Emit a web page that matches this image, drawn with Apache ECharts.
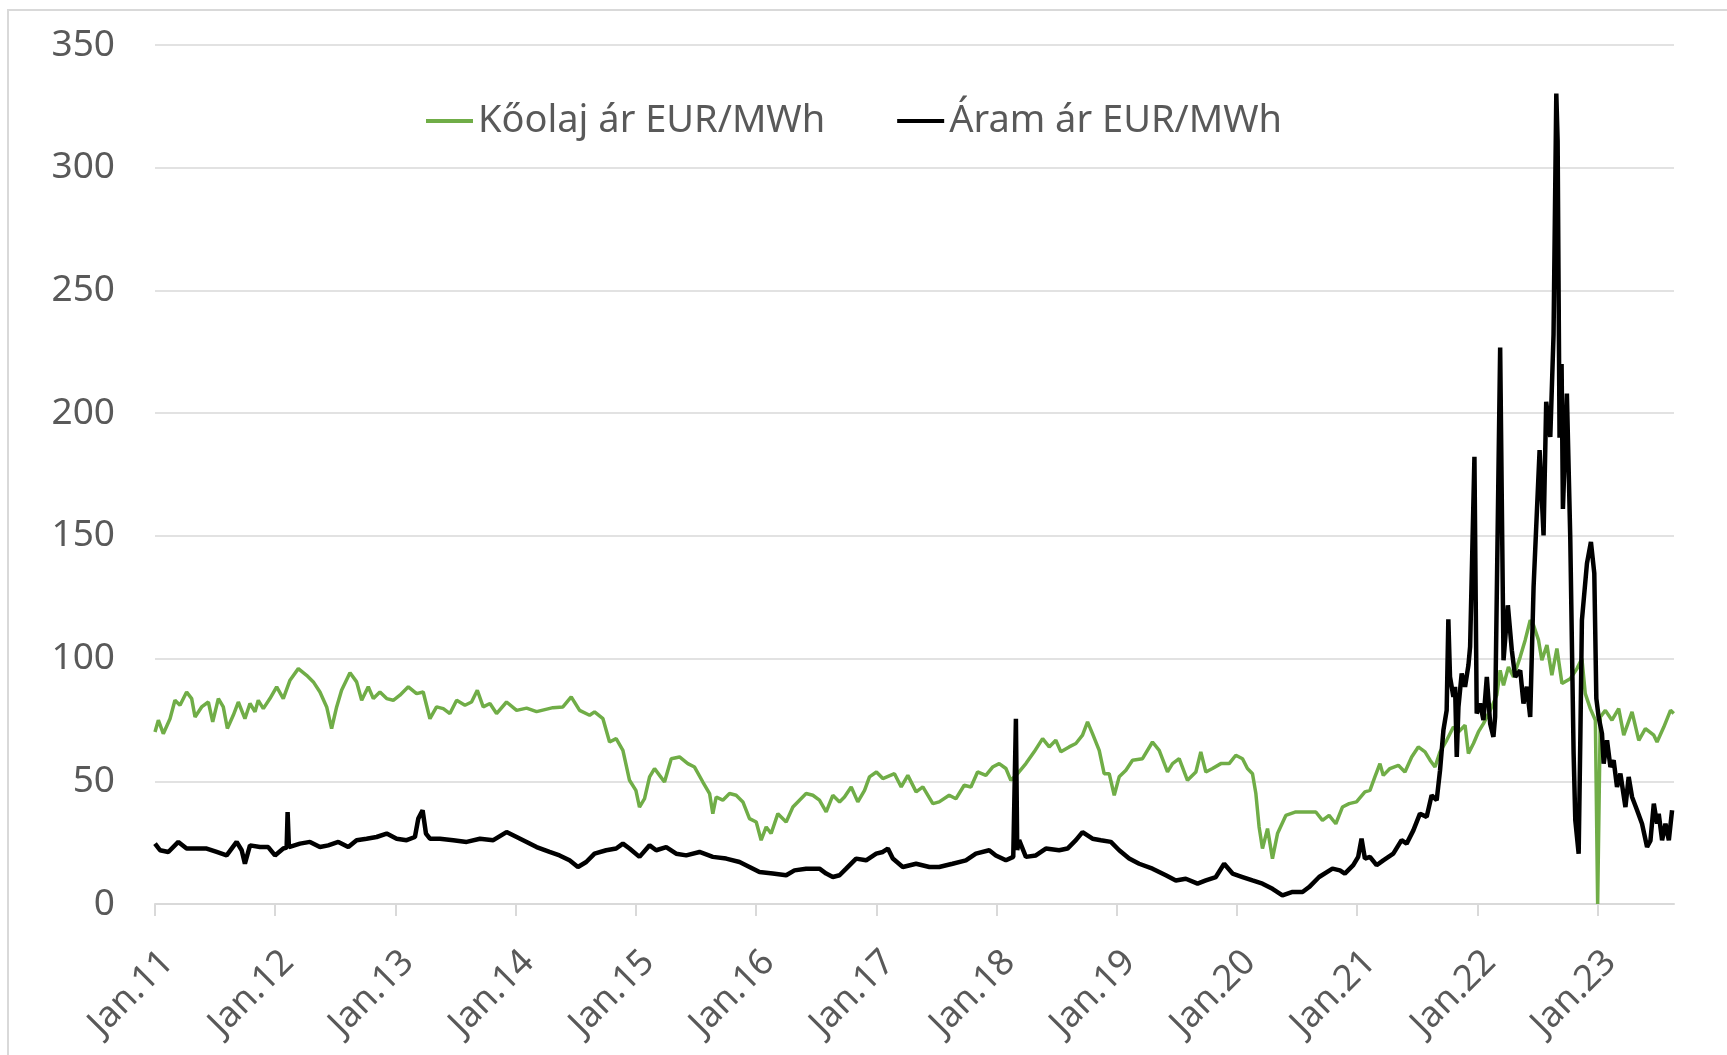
<!DOCTYPE html>
<html>
<head>
<meta charset="utf-8">
<title>Kőolaj és áram ár</title>
<script src="https://cdn.jsdelivr.net/npm/echarts@6/dist/echarts.min.js"></script>
<style>
  html, body { margin: 0; padding: 0; background: #fff; }
  #frame {
    position: absolute; left: 7px; top: 9px; right: 0; bottom: 0;
    border-left: 2px solid #d9d9d9; border-top: 2px solid #d9d9d9;
  }
  #chart { position: absolute; left: 0; top: 0; width: 1727px; height: 1055px; }
</style>
</head>
<body>
<div id="frame"></div>
<div id="chart"></div>
<script>
// idő tizedes évben (2011.0 = Jan.11), értékek EUR/MWh
const yearTicks = [2011, 2012, 2013, 2014, 2015, 2016, 2017, 2018, 2019, 2020, 2021, 2022, 2023]

const oilT = [
  2011.000, 2011.028, 2011.069, 2011.125, 2011.166, 2011.208, 2011.263, 2011.305, 2011.333, 2011.388,
  2011.444, 2011.480, 2011.527, 2011.568, 2011.602, 2011.651, 2011.693, 2011.748, 2011.790, 2011.832,
  2011.859, 2011.901, 2011.956, 2012.012, 2012.067, 2012.123, 2012.192, 2012.261, 2012.317, 2012.372,
  2012.428, 2012.469, 2012.511, 2012.552, 2012.622, 2012.677, 2012.719, 2012.774, 2012.816, 2012.871,
  2012.927, 2012.982, 2013.037, 2013.107, 2013.176, 2013.231, 2013.287, 2013.342, 2013.398, 2013.453,
  2013.509, 2013.578, 2013.633, 2013.681, 2013.730, 2013.786, 2013.841, 2013.924, 2014.008, 2014.091,
  2014.174, 2014.310, 2014.393, 2014.462, 2014.532, 2014.615, 2014.656, 2014.726, 2014.781, 2014.836,
  2014.892, 2014.947, 2015.000, 2015.030, 2015.072, 2015.114, 2015.155, 2015.197, 2015.238, 2015.294,
  2015.363, 2015.432, 2015.488, 2015.557, 2015.613, 2015.640, 2015.668, 2015.723, 2015.779, 2015.834,
  2015.890, 2015.945, 2016.001, 2016.042, 2016.084, 2016.125, 2016.181, 2016.250, 2016.306, 2016.361,
  2016.416, 2016.472, 2016.527, 2016.583, 2016.638, 2016.694, 2016.735, 2016.791, 2016.846, 2016.902,
  2016.943, 2017.001, 2017.054, 2017.151, 2017.207, 2017.262, 2017.331, 2017.387, 2017.470, 2017.523,
  2017.606, 2017.662, 2017.731, 2017.787, 2017.842, 2017.911, 2017.967, 2018.022, 2018.078, 2018.119,
  2018.175, 2018.244, 2018.313, 2018.383, 2018.438, 2018.493, 2018.535, 2018.604, 2018.660, 2018.715,
  2018.757, 2018.798, 2018.854, 2018.895, 2018.937, 2018.979, 2019.020, 2019.076, 2019.131, 2019.214,
  2019.297, 2019.353, 2019.422, 2019.464, 2019.519, 2019.588, 2019.658, 2019.699, 2019.741, 2019.796,
  2019.866, 2019.935, 2019.990, 2020.046, 2020.087, 2020.129, 2020.157, 2020.184, 2020.212, 2020.254,
  2020.295, 2020.337, 2020.406, 2020.489, 2020.572, 2020.656, 2020.711, 2020.766, 2020.822, 2020.877,
  2020.933, 2020.994, 2021.064, 2021.106, 2021.147, 2021.189, 2021.217, 2021.272, 2021.342, 2021.397,
  2021.453, 2021.508, 2021.564, 2021.606, 2021.647, 2021.689, 2021.744, 2021.800, 2021.842, 2021.897,
  2021.925, 2021.967, 2022.008, 2022.050, 2022.106, 2022.161, 2022.189, 2022.217, 2022.258, 2022.300,
  2022.356, 2022.397, 2022.439, 2022.467, 2022.508, 2022.536, 2022.578, 2022.619, 2022.661, 2022.703,
  2022.772, 2022.828, 2022.869, 2022.897, 2022.939, 2022.981, 2023.000, 2023.022, 2023.064, 2023.119,
  2023.175, 2023.217, 2023.286, 2023.342, 2023.397, 2023.467, 2023.494, 2023.550, 2023.606, 2023.633
]
const oilV = [
  70.1, 74.9, 69.4, 75.5, 83.0, 81.0, 86.4, 83.7, 76.2, 80.3,
  82.3, 74.2, 83.7, 80.3, 71.5, 76.9, 82.3, 75.5, 81.7, 78.3,
  83.0, 79.6, 83.7, 88.5, 83.7, 91.2, 95.9, 93.2, 90.5, 86.4,
  80.3, 71.5, 80.3, 87.1, 94.2, 90.5, 83.0, 88.5, 83.7, 86.4,
  83.7, 83.0, 85.1, 88.5, 85.7, 86.4, 75.5, 80.3, 79.6, 77.6,
  83.0, 81.0, 82.3, 87.1, 80.3, 81.7, 77.6, 82.3, 78.9, 79.8,
  78.4, 80.0, 80.3, 84.4, 78.9, 76.9, 78.3, 75.5, 66.0, 67.4,
  62.6, 50.4, 46.3, 39.5, 42.9, 51.8, 55.2, 52.4, 49.7, 59.2,
  59.9, 57.2, 55.8, 49.7, 45.0, 36.8, 43.6, 42.3, 45.0, 44.3,
  41.6, 34.8, 33.4, 26.0, 31.4, 28.7, 36.8, 33.4, 39.5, 42.3,
  45.0, 44.3, 42.3, 37.5, 44.3, 41.6, 43.6, 47.7, 41.6, 46.3,
  51.8, 53.8, 51.1, 53.1, 47.7, 52.4, 45.7, 47.7, 40.9, 41.6,
  44.3, 42.9, 48.4, 47.7, 53.8, 52.4, 55.8, 57.2, 55.2, 50.4,
  53.1, 57.2, 62.0, 67.4, 64.0, 66.7, 62.0, 64.0, 65.4, 68.8,
  74.2, 69.4, 62.6, 53.1, 53.1, 44.3, 51.8, 54.5, 58.6, 59.2,
  66.0, 62.6, 53.8, 57.2, 59.2, 50.4, 53.8, 62.0, 53.8, 55.2,
  57.2, 57.2, 60.6, 59.2, 55.2, 53.1, 45.0, 31.4, 22.6, 30.7,
  18.5, 28.7, 36.1, 37.5, 37.5, 37.5, 34.1, 36.1, 32.7, 39.5,
  40.9, 41.6, 45.7, 46.3, 51.8, 57.2, 52.4, 55.2, 56.5, 53.8,
  59.9, 64.0, 62.0, 58.6, 55.8, 62.0, 66.7, 72.1, 70.1, 72.8,
  61.3, 65.4, 70.1, 73.5, 78.9, 85.1, 95.2, 89.1, 96.6, 92.5,
  100.7, 107.5, 115.6, 113.6, 107.5, 99.3, 105.5, 93.2, 104.1, 89.8,
  91.8, 95.9, 100.0, 85.7, 79.6, 74.9, 0.0, 76.2, 78.9, 74.9,
  79.6, 68.8, 78.3, 66.7, 71.5, 68.8, 66.0, 72.1, 78.9, 77.6
]

const powerT = [
  2011.000, 2011.042, 2011.111, 2011.194, 2011.263, 2011.347, 2011.430, 2011.513, 2011.596, 2011.679,
  2011.721, 2011.748, 2011.790, 2011.873, 2011.942, 2011.998, 2012.067, 2012.095, 2012.103, 2012.114,
  2012.206, 2012.289, 2012.372, 2012.441, 2012.525, 2012.608, 2012.677, 2012.760, 2012.843, 2012.927,
  2013.010, 2013.093, 2013.162, 2013.190, 2013.226, 2013.254, 2013.287, 2013.370, 2013.481, 2013.592,
  2013.703, 2013.814, 2013.924, 2014.008, 2014.091, 2014.174, 2014.282, 2014.365, 2014.448, 2014.518,
  2014.587, 2014.656, 2014.753, 2014.836, 2014.892, 2014.947, 2015.030, 2015.114, 2015.169, 2015.252,
  2015.335, 2015.419, 2015.529, 2015.640, 2015.751, 2015.862, 2015.945, 2016.028, 2016.139, 2016.250,
  2016.319, 2016.416, 2016.527, 2016.583, 2016.638, 2016.694, 2016.749, 2016.832, 2016.915, 2016.999,
  2017.054, 2017.096, 2017.137, 2017.220, 2017.331, 2017.442, 2017.523, 2017.634, 2017.745, 2017.828,
  2017.939, 2017.994, 2018.078, 2018.139, 2018.150, 2018.161, 2018.172, 2018.188, 2018.244, 2018.327,
  2018.410, 2018.521, 2018.590, 2018.660, 2018.715, 2018.798, 2018.868, 2018.951, 2019.020, 2019.103,
  2019.186, 2019.297, 2019.408, 2019.491, 2019.574, 2019.672, 2019.741, 2019.824, 2019.893, 2019.963,
  2020.046, 2020.129, 2020.212, 2020.295, 2020.378, 2020.462, 2020.545, 2020.600, 2020.683, 2020.794,
  2020.856, 2020.897, 2020.967, 2021.008, 2021.036, 2021.064, 2021.106, 2021.161, 2021.217, 2021.300,
  2021.369, 2021.411, 2021.467, 2021.522, 2021.578, 2021.619, 2021.661, 2021.689, 2021.717, 2021.744,
  2021.758, 2021.772, 2021.800, 2021.814, 2021.828, 2021.842, 2021.869, 2021.897, 2021.925, 2021.939,
  2021.975, 2021.994, 2022.022, 2022.050, 2022.078, 2022.106, 2022.133, 2022.147, 2022.189, 2022.217,
  2022.253, 2022.286, 2022.314, 2022.356, 2022.383, 2022.411, 2022.439, 2022.467, 2022.517, 2022.550,
  2022.572, 2022.606, 2022.633, 2022.656, 2022.667, 2022.683, 2022.700, 2022.711, 2022.744, 2022.772,
  2022.800, 2022.814, 2022.842, 2022.856, 2022.869, 2022.911, 2022.944, 2022.972, 2022.989, 2023.008,
  2023.036, 2023.050, 2023.078, 2023.106, 2023.133, 2023.161, 2023.189, 2023.231, 2023.258, 2023.286,
  2023.328, 2023.369, 2023.411, 2023.439, 2023.467, 2023.494, 2023.508, 2023.536, 2023.564, 2023.592,
  2023.619
]
const powerV = [
  24.6, 21.9, 21.2, 25.3, 22.6, 22.6, 22.6, 21.2, 19.8, 25.3,
  21.9, 16.4, 23.9, 23.2, 23.2, 19.8, 22.6, 23.0, 37.5, 23.2,
  24.6, 25.3, 23.2, 23.9, 25.3, 23.2, 26.0, 26.6, 27.3, 28.7,
  26.6, 26.0, 27.3, 34.8, 38.2, 28.7, 26.6, 26.6, 26.0, 25.3,
  26.6, 26.0, 29.3, 27.3, 25.3, 23.2, 21.2, 19.8, 17.8, 15.1,
  17.1, 20.5, 21.9, 22.6, 24.6, 22.6, 19.2, 23.9, 21.9, 23.2,
  20.5, 19.8, 21.2, 19.2, 18.5, 17.1, 15.1, 13.0, 12.4, 11.7,
  13.7, 14.4, 14.4, 12.4, 11.0, 11.7, 14.4, 18.5, 17.8, 20.5,
  21.2, 22.6, 18.5, 15.1, 16.4, 15.1, 15.1, 16.4, 17.8, 20.5,
  21.9, 19.8, 17.8, 19.2, 20.0, 75.5, 22.0, 26.0, 19.2, 19.8,
  22.6, 21.9, 22.6, 26.0, 29.3, 26.6, 26.0, 25.3, 21.9, 18.5,
  16.4, 14.4, 11.7, 9.6, 10.3, 8.3, 9.6, 11.0, 16.4, 12.4,
  11.0, 9.6, 8.3, 6.2, 3.5, 4.9, 4.9, 6.9, 11.0, 14.4,
  13.7, 12.4, 15.8, 19.2, 26.6, 18.5, 19.2, 15.8, 17.8, 20.5,
  26.0, 24.6, 30.0, 36.8, 35.5, 44.3, 42.3, 54.5, 70.8, 78.9,
  116.0, 92.5, 84.4, 88.5, 59.9, 80.3, 93.9, 88.5, 97.3, 104.8,
  182.2, 77.6, 81.7, 74.9, 92.5, 73.5, 68.1, 76.2, 226.7, 99.3,
  121.7, 103.4, 92.5, 95.2, 81.7, 88.5, 76.2, 129.2, 184.9, 150.2,
  204.6, 190.3, 232.0, 330.2, 311.0, 190.0, 220.0, 161.0, 208.0, 149.5,
  61.3, 34.1, 20.5, 68.1, 115.6, 138.8, 147.5, 134.8, 83.7, 76.2,
  69.4, 57.2, 66.7, 55.8, 58.6, 47.7, 53.1, 39.5, 51.8, 43.6,
  38.2, 32.7, 23.2, 25.8, 40.9, 32.7, 36.8, 26.0, 32.7, 26.0,
  38.2
]

const seriesNames = ['Kőolaj ár EUR/MWh', 'Áram ár EUR/MWh']
const seriesColors = ['#70ad47', '#000000']

const toPairs = (ts, vs) => ts.map((t, i) => [t, vs[i]])

const chart = echarts.init(document.getElementById('chart'), null, { renderer: 'canvas' })

const font = '"Noto Sans", "Open Sans", sans-serif'

const option = {
  animation: false,
  textStyle: { fontFamily: font },
  grid: { left: 155, right: 53, top: 45, bottom: 151, containLabel: false },
  legend: {
    left: 421,
    top: 97,
    icon: 'rect',
    itemWidth: 47,
    itemHeight: 4,
    itemGap: 72,
    textStyle: { fontSize: 38, color: '#595959', fontFamily: font },
    data: seriesNames
  },
  xAxis: {
    type: 'value',
    min: 2011,
    max: 2023.635,
    interval: 1,
    splitLine: { show: false },
    axisLine: { lineStyle: { color: '#d9d9d9', width: 2 } },
    axisTick: { show: true, length: 12, customValues: yearTicks, lineStyle: { color: '#d9d9d9', width: 2 } },
    axisLabel: {
      customValues: yearTicks,
      rotate: 45,
      align: 'right',
      verticalAlign: 'top',
      margin: 40,
      fontSize: 36,
      color: '#595959',
      fontFamily: font,
      formatter: (v) => 'Jan.' + String(Math.round(v)).slice(2)
    }
  },
  yAxis: {
    type: 'value',
    min: 0,
    max: 350,
    interval: 50,
    axisLine: { show: false },
    axisTick: { show: false },
    splitLine: { lineStyle: { color: '#d9d9d9', width: 1.5 } },
    axisLabel: { margin: 40, fontSize: 37, color: '#595959', fontFamily: font }
  },
  series: [
    {
      name: seriesNames[0],
      type: 'line',
      data: toPairs(oilT, oilV),
      symbol: 'none',
      color: seriesColors[0],
      lineStyle: { width: 3.5, color: seriesColors[0] }
    },
    {
      name: seriesNames[1],
      type: 'line',
      data: toPairs(powerT, powerV),
      symbol: 'none',
      color: seriesColors[1],
      lineStyle: { width: 4.5, color: seriesColors[1] }
    }
  ]
}

chart.setOption(option)
</script>
</body>
</html>
